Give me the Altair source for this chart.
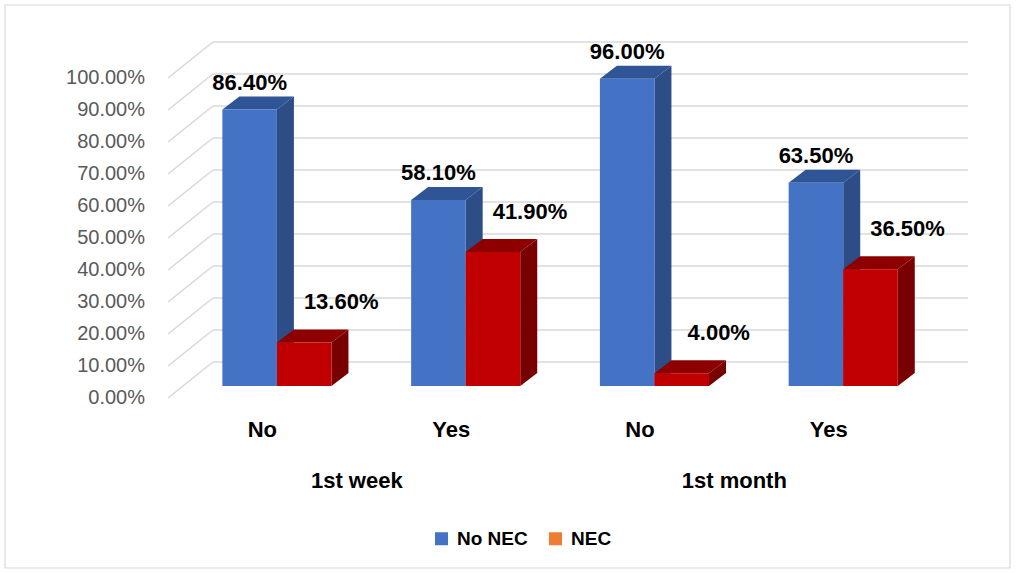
import altair as alt
import pandas as pd

# ---- data ----
periods = ["1st week", "1st week", "1st month", "1st month"]
answers = ["No", "Yes", "No", "Yes"]
no_nec = [86.4, 58.1, 96.0, 63.5]
nec = [13.6, 41.9, 4.0, 36.5]
series = ["No NEC", "NEC"]
y_ticks = [0, 10, 20, 30, 40, 50, 60, 70, 80, 90, 100]
group_names = ["1st week", "1st month"]

# ---- styling constants (in scale units) ----
X_MAX = 4.238          # slots incl. wall depth
Y_MAX = 111.25         # % units incl. wall depth
BAR_W = 0.289
BAR_SHIFT = 0.077
DX, DY = 0.09, 4.06    # bar depth
WX, WY = 0.238, 11.25  # wall depth
BASE = 3.75            # bar baseline above front floor

FONT = "Liberation Sans"
BLUE, BLUE_SIDE, BLUE_TOP = "#4472C4", "#2D4D86", "#2F5597"
RED, RED_SIDE, RED_TOP = "#C00000", "#780000", "#8E0000"
GRID = "#D9D9D9"

xs = alt.Scale(domain=[0, X_MAX], nice=False, zero=False)
ys = alt.Scale(domain=[0, Y_MAX], nice=False, zero=False)


def bars(values, offset):
    rows_front, rows_side, rows_top, rows_lab = [], [], [], []
    for i, v in enumerate(values):
        c = i + 0.5 + BAR_SHIFT
        x1 = c - BAR_W + offset
        x2 = c + offset
        top = BASE + v
        rows_front.append(dict(x=x1, x2=x2, y=BASE, y2=top))
        rows_side += [dict(b=i, x=x2, lo=BASE, hi=top),
                      dict(b=i, x=x2 + DX, lo=BASE + DY, hi=top + DY)]
        rows_top += [dict(b=i, x=x1, lo=top, hi=top),
                     dict(b=i, x=x1 + DX, lo=top, hi=top + DY),
                     dict(b=i, x=x2, lo=top, hi=top + DY),
                     dict(b=i, x=x2 + DX, lo=top + DY, hi=top + DY)]
        rows_lab.append(dict(x=(x1 + x2) / 2, y=top, t=f"{v:.2f}%"))
    return (pd.DataFrame(rows_front), pd.DataFrame(rows_side),
            pd.DataFrame(rows_top), pd.DataFrame(rows_lab))


def faces(values, offset, front, side, topc):
    f, s, t, lab = bars(values, offset)
    side_l = alt.Chart(s).mark_area(color=side, interpolate="linear").encode(
        x=alt.X("x:Q", scale=xs, axis=None),
        y=alt.Y("hi:Q", scale=ys, axis=None), y2="lo:Q", detail="b:N")
    top_l = alt.Chart(t).mark_area(color=topc, interpolate="linear").encode(
        x=alt.X("x:Q", scale=xs, axis=None),
        y=alt.Y("hi:Q", scale=ys, axis=None), y2="lo:Q", detail="b:N")
    front_l = alt.Chart(f).mark_rect(color=front).encode(
        x=alt.X("x:Q", scale=xs, axis=None), x2="x2:Q",
        y=alt.Y("y:Q", scale=ys, axis=None), y2="y2:Q")
    return [side_l, top_l, front_l], lab


# gridlines (3D wall)
grid_df = pd.DataFrame({"t": y_ticks})
grid_df["x0"] = 0.0
grid_df["xw"] = WX
grid_df["xe"] = X_MAX
grid_df["tw"] = grid_df["t"] + WY
diag = alt.Chart(grid_df).mark_rule(color=GRID, strokeWidth=1.6).encode(
    x=alt.X("x0:Q", scale=xs, axis=None), x2="xw:Q",
    y=alt.Y("t:Q", scale=ys, axis=None), y2="tw:Q")
horiz = alt.Chart(grid_df).mark_rule(color=GRID, strokeWidth=1.6).encode(
    x=alt.X("xw:Q", scale=xs, axis=None), x2="xe:Q",
    y=alt.Y("tw:Q", scale=ys, axis=None))

ylab_df = pd.DataFrame({"t": y_ticks, "x": 0.0})
ylab_df["lab"] = [f"{t:.2f}%" for t in y_ticks]
ylabels = alt.Chart(ylab_df).mark_text(
    align="right", baseline="middle", dx=-23, font=FONT, fontSize=20,
    color="#595959").encode(
    x=alt.X("x:Q", scale=xs, axis=None),
    y=alt.Y("t:Q", scale=ys, axis=None), text="lab:N")

blue_layers, blue_lab = faces(no_nec, 0.0, BLUE, BLUE_SIDE, BLUE_TOP)
red_layers, red_lab = faces(nec, BAR_W, RED, RED_SIDE, RED_TOP)

blue_text = alt.Chart(blue_lab).mark_text(
    align="center", baseline="middle", dy=-27, font=FONT, fontSize=22,
    fontWeight="bold", color="black").encode(
    x=alt.X("x:Q", scale=xs, axis=None),
    y=alt.Y("y:Q", scale=ys, axis=None), text="t:N")
red_text = alt.Chart(red_lab).mark_text(
    align="center", baseline="middle", dx=37, dy=-40, font=FONT, fontSize=22,
    fontWeight="bold", color="black").encode(
    x=alt.X("x:Q", scale=xs, axis=None),
    y=alt.Y("y:Q", scale=ys, axis=None), text="t:N")

cat_df = pd.DataFrame({"x": [i + 0.5 for i in range(len(answers))],
                       "lab": answers})
cats = alt.Chart(cat_df).mark_text(
    align="center", baseline="middle", font=FONT, fontSize=22,
    fontWeight="bold", color="black").encode(
    x=alt.X("x:Q", scale=xs, axis=None), y=alt.value(388), text="lab:N")

grp_x = []
for g in group_names:
    idx = [i for i, p in enumerate(periods) if p == g]
    grp_x.append((min(idx) + max(idx) + 1) / 2)
grp_df = pd.DataFrame({"x": grp_x, "lab": group_names})
grps = alt.Chart(grp_df).mark_text(
    align="center", baseline="middle", font=FONT, fontSize=22,
    fontWeight="bold", color="black").encode(
    x=alt.X("x:Q", scale=xs, axis=None), y=alt.value(439), text="lab:N")

leg_df = pd.DataFrame({"series": series})
legend_layer = alt.Chart(leg_df).mark_square(opacity=0).encode(
    x=alt.value(0), y=alt.value(0),
    color=alt.Color("series:N",
                    scale=alt.Scale(domain=series, range=["#4472C4", "#ED7D31"]),
                    legend=alt.Legend(orient="none", legendX=264, legendY=487,
                                      direction="horizontal", title=None,
                                      symbolType="square", symbolSize=169,
                                      symbolOpacity=1, symbolStrokeWidth=0,
                                      labelFont=FONT, labelFontSize=19,
                                      labelFontWeight="bold", labelColor="black",
                                      columnPadding=18, labelOffset=6,
                                      padding=0)))

border = alt.Chart(pd.DataFrame({"a": [0]})).mark_rect(
    fill=None, stroke=GRID, strokeWidth=1.2).encode(
    x=alt.value(-163), x2=alt.value(842), y=alt.value(-37), y2=alt.value(526))

chart = alt.layer(
    border, diag, horiz, ylabels, *blue_layers, *red_layers,
    blue_text, red_text, cats, grps, legend_layer
).properties(
    width=800, height=356,
    autosize=alt.AutoSizeParams(type="none"),
    padding={"left": 168, "top": 42, "right": 48, "bottom": 175},
    background="white"
).configure_view(stroke=None)

chart.save("out.html", embed_options={"renderer": "svg", "actions": False})
